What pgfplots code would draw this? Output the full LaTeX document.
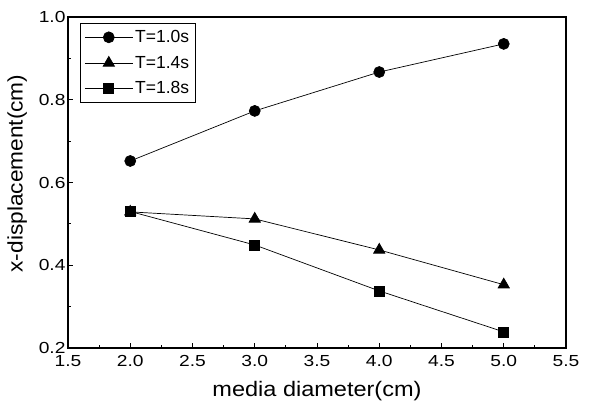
\documentclass[border=0pt]{standalone}
\usepackage{pgfplots}
\pgfplotsset{compat=1.18}
\usepackage{fontspec}
\setmainfont{Liberation Sans}
\newfontfamily\tickfont[FakeStretch=1.2]{Liberation Sans}
\newfontfamily\xlabfont[FakeStretch=1.12]{Liberation Sans}
\newfontfamily\ylabfont[FakeStretch=1.08]{Liberation Sans}
\usetikzlibrary{calc}

\begin{document}
\begin{tikzpicture}
\begin{axis}[
    name=ax,
    width=498pt, height=331pt,
    scale only axis,
    xmin=1.5, xmax=5.5,
    ymin=0.2, ymax=1.0,
    xtick={1.5,2.0,...,5.5},
    ytick={0.2,0.4,...,1.0},
    minor x tick num=1,
    minor y tick num=1,
    xticklabel style={yshift=-4pt, /pgf/number format/.cd, fixed, fixed zerofill, precision=1},
    yticklabel style={xshift=1pt, /pgf/number format/.cd, fixed, fixed zerofill, precision=1},
    /pgf/number format/assume math mode=true,
    tick align=inside,
    xtick pos=bottom, ytick pos=left,
    major tick length=5pt, minor tick length=3pt,
    axis line style={line width=1.2pt},
    tick style={line width=1pt, black},
    ticklabel style={font=\tickfont\fontsize{16pt}{18pt}\selectfont},
    xlabel={media diameter(cm)},
    ylabel={x-displacement(cm)},
    xlabel style={font=\xlabfont\fontsize{21pt}{24pt}\selectfont, yshift=-8pt},
    ylabel style={font=\ylabfont\fontsize{21pt}{24pt}\selectfont, yshift=5pt, xshift=9pt},
    legend style={at={(0.024,0.982)}, anchor=north west, draw=black, line width=1pt,
        font=\fontsize{17.5pt}{20pt}\selectfont, row sep=8pt, inner xsep=4pt, inner ysep=5pt},
    legend cell align=left,
    legend image code/.code={
        \draw[mark repeat=2, mark phase=2] plot coordinates {(0pt,0pt) (24pt,0pt) (48pt,0pt)};
    },
]
\addplot[black, line width=0.7pt, mark=*, mark size=5.5pt] coordinates {
    (2.0,0.652) (3.0,0.773) (4.0,0.867) (5.0,0.935)
};
\addlegendentry{T=1.0s}
\addplot[black, line width=0.7pt, mark=triangle*, mark size=6.5pt] coordinates {
    (2.0,0.529) (3.0,0.512) (4.0,0.437) (5.0,0.353)
};
\addlegendentry{T=1.4s}
\addplot[black, line width=0.7pt, mark=square*, mark size=5pt] coordinates {
    (2.0,0.530) (3.0,0.449) (4.0,0.338) (5.0,0.239)
};
\addlegendentry{T=1.8s}
\end{axis}
\pgfresetboundingbox
\path ($(ax.south west)+(-68pt,-60pt)$) rectangle ($(ax.north east)+(27pt,17pt)$);
\end{tikzpicture}
\end{document}
